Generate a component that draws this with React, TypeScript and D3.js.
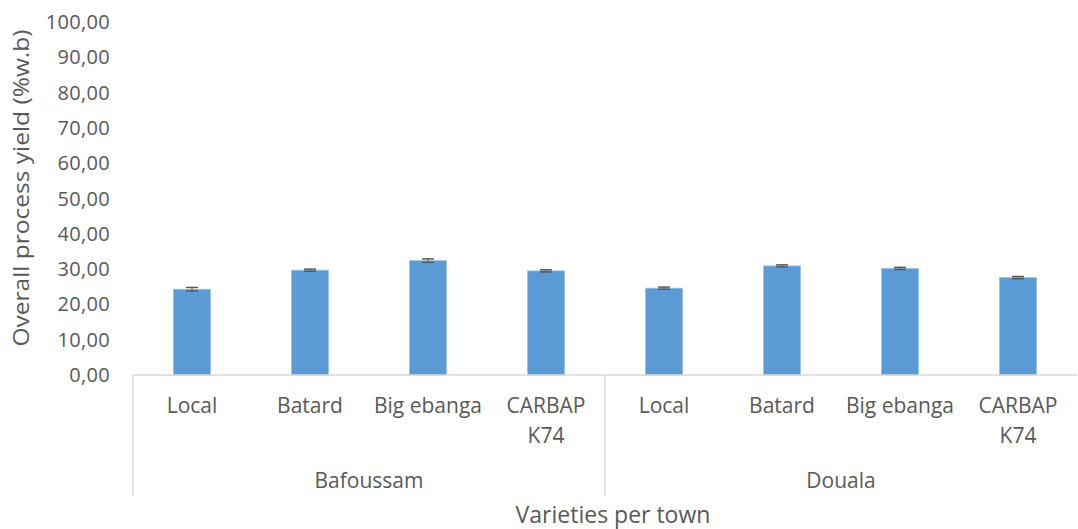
import React from "react";
import * as d3 from "d3";

const towns = ["Bafoussam", "Douala"];
const varieties = ["Local", "Batard", "Big ebanga", "CARBAP K74"];
const bafoussamValues = [24.3, 29.7, 32.4, 29.5];
const doualaValues = [24.6, 30.9, 30.2, 27.6];
const bafoussamErrors = [0.5, 0.3, 0.5, 0.3];
const doualaErrors = [0.3, 0.3, 0.3, 0.3];
const yTicks = [0, 10, 20, 30, 40, 50, 60, 70, 80, 90, 100];

const W = 1078;
const H = 529;
const FONT = "'Open Sans', sans-serif";
const TXT = "#595959";

export default function App() {
  const left = 133;
  const right = 1077;
  const top = 22;
  const bottom = 375;

  const rows = [
    ...varieties.map((v, i) => ({ town: towns[0], variety: v, value: bafoussamValues[i], err: bafoussamErrors[i] })),
    ...varieties.map((v, i) => ({ town: towns[1], variety: v, value: doualaValues[i], err: doualaErrors[i] })),
  ];
  const keys = rows.map((r, i) => `${i}`);

  const x = d3.scaleBand<string>().domain(keys).range([left, right]).paddingInner(0.685).paddingOuter(0.3425);
  const xOuter = d3.scaleBand<string>().domain(keys).range([left, right]);
  const y = d3.scaleLinear().domain([0, 100]).range([bottom, top]);
  const groupW = (right - left) / towns.length;

  return (
    <svg width={W} height={H} style={{ position: "absolute", left: 0, top: 0, background: "#fff" }}>
      {yTicks.map((t) => (
        <text key={t} x={110} y={y(t)} dy="0.35em" textAnchor="end" fontFamily={FONT} fontSize={20} fill={TXT} letterSpacing={0.3}>
          {d3.format(".2f")(t).replace(".", ",")}
        </text>
      ))}
      <text
        transform={`translate(22,188) rotate(-90)`}
        textAnchor="middle"
        fontFamily={FONT}
        fontSize={21}
        fill={TXT}
        dy="0.35em"
        textLength={317}
        lengthAdjust="spacingAndGlyphs"
      >
        {"Overall process  yield (%w.b)"}
      </text>

      {rows.map((r, i) => {
        const bx = x(keys[i])!;
        const bw = x.bandwidth();
        const cx = bx + bw / 2;
        return (
          <g key={i}>
            <rect x={bx} y={y(r.value)} width={bw} height={bottom - y(r.value)} fill="#5B9BD5" stroke="#9DC3E6" strokeWidth={0.8} />
            <line x1={cx} x2={cx} y1={y(r.value + r.err)} y2={y(r.value - r.err)} stroke="#595959" strokeWidth={1} />
            <line x1={cx - 6} x2={cx + 6} y1={y(r.value + r.err)} y2={y(r.value + r.err)} stroke="#595959" strokeWidth={1.5} />
            <line x1={cx - 6} x2={cx + 6} y1={y(r.value - r.err)} y2={y(r.value - r.err)} stroke="#595959" strokeWidth={1.5} />
          </g>
        );
      })}

      <line x1={left} x2={right} y1={bottom} y2={bottom} stroke="#D9D9D9" strokeWidth={1.5} />
      {[0, 1].map((g) => (
        <line key={g} x1={left + g * groupW} x2={left + g * groupW} y1={bottom} y2={496} stroke="#D9D9D9" strokeWidth={1.5} />
      ))}

      {rows.map((r, i) => {
        const cx = xOuter(keys[i])! + xOuter.bandwidth() / 2;
        const parts = r.variety === "CARBAP K74" ? ["CARBAP", "K74"] : [r.variety];
        return (
          <text key={i} textAnchor="middle" fontFamily={FONT} fontSize={21} fill={TXT}>
            {parts.map((p, j) => (
              <tspan key={j} x={cx} y={406 + j * 30} dy="0.35em">
                {p}
              </tspan>
            ))}
          </text>
        );
      })}
      {towns.map((t, g) => (
        <text key={t} x={left + g * groupW + groupW / 2} y={481} dy="0.35em" textAnchor="middle" fontFamily={FONT} fontSize={21} fill={TXT}>
          {t}
        </text>
      ))}
      <text x={613} y={515} dy="0.35em" textAnchor="middle" fontFamily={FONT} fontSize={23} fill={TXT}>
        Varieties per town
      </text>
    </svg>
  );
}
